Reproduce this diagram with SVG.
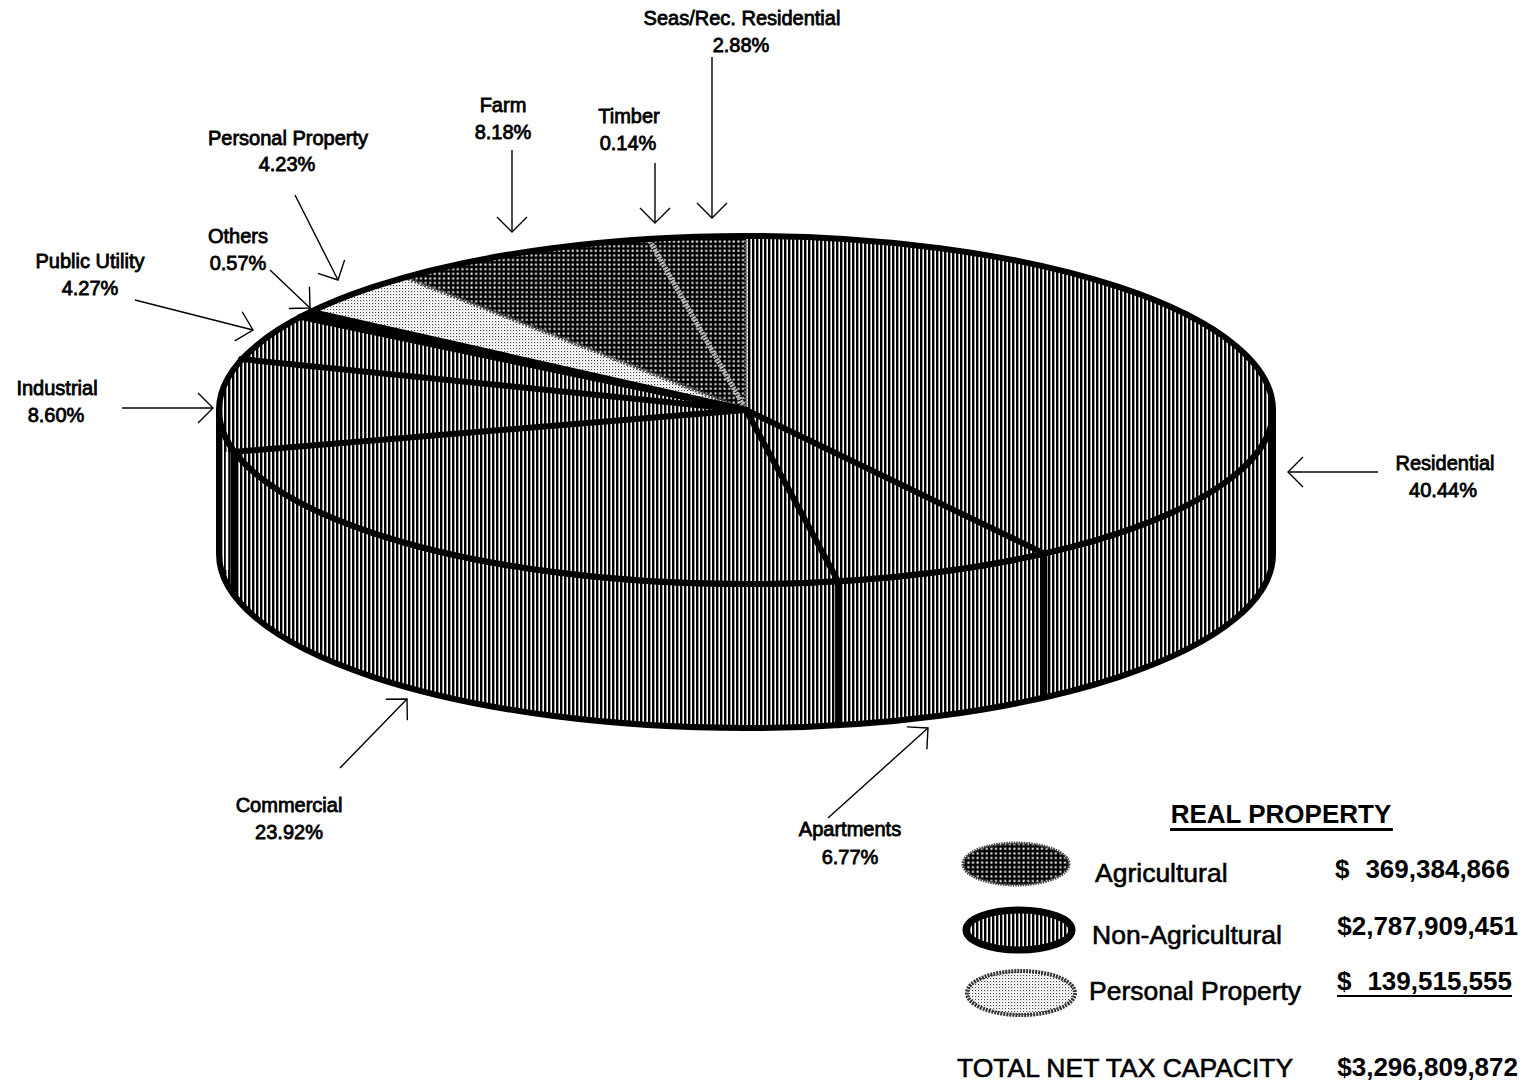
<svg xmlns="http://www.w3.org/2000/svg" width="1524" height="1083" viewBox="0 0 1524 1083">
<style>
.lbl{font-family:"Liberation Sans",Arial,sans-serif;font-size:20px;fill:#000;stroke:#000;stroke-width:0.8px;text-anchor:middle}
.leg{font-family:"Liberation Sans",Arial,sans-serif;font-size:26.5px;fill:#000;stroke:#000;stroke-width:0.6px}
.num{font-family:"Liberation Sans",Arial,sans-serif;font-size:26px;font-weight:bold;fill:#000}
.arr{fill:none;stroke:#000;stroke-width:1.4px;marker-end:url(#ah)}
.edge{fill:none;stroke:#000;stroke-width:6px;stroke-linejoin:round}
.rad{stroke:#000;stroke-width:6px;stroke-linecap:round}
</style>
<defs>
<pattern id="vl" patternUnits="userSpaceOnUse" width="4" height="4"><rect width="4" height="4" fill="#fff"/><rect width="2.4" height="4" fill="#000"/></pattern>
<pattern id="gr" patternUnits="userSpaceOnUse" width="4.6" height="4.6"><rect width="4.6" height="4.6" fill="#000"/><rect x="1.4" y="1.4" width="2" height="2" fill="#fff"/></pattern>
<pattern id="st" patternUnits="userSpaceOnUse" width="3" height="3"><rect width="3" height="3" fill="#fff"/><rect width="1.1" height="1.1" fill="#444"/><rect x="1.5" y="1.5" width="0.8" height="0.8" fill="#999"/></pattern>
<marker id="ah" markerUnits="userSpaceOnUse" markerWidth="40" markerHeight="40" viewBox="-20 -20 40 40" refX="0" refY="0" orient="auto" overflow="visible"><path d="M-15,-15 L0,0 L-15,15" fill="none" stroke="#000" stroke-width="1.4"/></marker>
</defs>
<rect width="1524" height="1083" fill="#fff"/>

<g id="pie">
  <g id="side">
    <path d="M219,410 A527,174 0 0 0 1273,410 L1273,554 A527,174 0 0 1 219,554 Z" fill="url(#vl)" stroke="#000" stroke-width="6" stroke-linejoin="round"/>
    <line class="rad" x1="1044.4" y1="553.6" x2="1044.4" y2="695"/>
    <line class="rad" x1="838.1" y1="581.3" x2="838.1" y2="725.3"/>
    <line class="rad" x1="233.5" y1="451.9" x2="233.5" y2="590"/>
    <line x1="227" y1="452" x2="227" y2="570" stroke="#fff" stroke-width="2.5"/>
  </g>
  <g id="top">
    <ellipse cx="746" cy="410" rx="527" ry="174" fill="url(#vl)"/>
    <path id="agri-wedge" d="M746,410 L404.5,277.3 A527,174 0 0 1 746,236 Z" fill="url(#gr)"/>
    <path id="personal-wedge" d="M746,410 L310.6,311.6 A527,174 0 0 1 404.5,277.3 Z" fill="url(#st)"/>
    <path id="others-wedge" d="M746,410 L300.2,316.8 A527,174 0 0 1 310.6,311.6 Z" fill="#000"/>
    <line x1="746" y1="410" x2="404.5" y2="277.3" stroke="#555" stroke-width="4" stroke-dasharray="2 1.5"/>
    <line x1="746" y1="410" x2="648.7" y2="239" stroke="#bbb" stroke-width="5" stroke-dasharray="2 1"/>
    <line x1="746" y1="410" x2="746" y2="236" stroke="#777" stroke-width="3" stroke-dasharray="2 1.5"/>
    <line class="rad" x1="746" y1="410" x2="1044.4" y2="553.6"/>
    <line class="rad" x1="746" y1="410" x2="838.1" y2="581.3"/>
    <line class="rad" x1="746" y1="410" x2="233.5" y2="451.9"/>
    <line class="rad" x1="746" y1="410" x2="241.1" y2="359.1"/>
    <line class="rad" x1="746" y1="410" x2="300.2" y2="316.8"/>
    <line class="rad" x1="746" y1="410" x2="310.6" y2="311.6"/>
    <ellipse class="edge" cx="746" cy="410" rx="527" ry="174"/>
  </g>
</g>

<g id="connectors">
  <line class="arr" x1="712" y1="57" x2="712" y2="218"/>
  <line class="arr" x1="655" y1="163" x2="655" y2="223"/>
  <line class="arr" x1="512" y1="150" x2="512" y2="232"/>
  <line class="arr" x1="295" y1="195" x2="338" y2="280"/>
  <line class="arr" x1="270" y1="270" x2="310" y2="308"/>
  <line class="arr" x1="135" y1="300" x2="253" y2="330"/>
  <line class="arr" x1="122" y1="408" x2="213" y2="408"/>
  <line class="arr" x1="1378" y1="472" x2="1288" y2="472"/>
  <line class="arr" x1="340" y1="768" x2="407" y2="699"/>
  <line class="arr" x1="828" y1="818" x2="928" y2="728"/>
</g>

<g id="label-seasrec"><text class="lbl" x="742" y="25">Seas/Rec. Residential</text><text class="lbl" x="741" y="52">2.88%</text></g>
<g id="label-timber"><text class="lbl" x="629" y="123">Timber</text><text class="lbl" x="628" y="150">0.14%</text></g>
<g id="label-farm"><text class="lbl" x="503" y="112">Farm</text><text class="lbl" x="503" y="139">8.18%</text></g>
<g id="label-personal"><text class="lbl" x="288" y="145">Personal Property</text><text class="lbl" x="287" y="171">4.23%</text></g>
<g id="label-others"><text class="lbl" x="238" y="243">Others</text><text class="lbl" x="238" y="270">0.57%</text></g>
<g id="label-public"><text class="lbl" x="90" y="268">Public Utility</text><text class="lbl" x="90" y="295">4.27%</text></g>
<g id="label-industrial"><text class="lbl" x="57" y="395">Industrial</text><text class="lbl" x="56" y="422">8.60%</text></g>
<g id="label-residential"><text class="lbl" x="1445" y="470">Residential</text><text class="lbl" x="1443" y="497">40.44%</text></g>
<g id="label-commercial"><text class="lbl" x="289" y="812">Commercial</text><text class="lbl" x="289" y="839">23.92%</text></g>
<g id="label-apartments"><text class="lbl" x="850" y="836">Apartments</text><text class="lbl" x="850" y="864">6.77%</text></g>

<g id="legend">
  <text class="num" x="1281" y="823" text-anchor="middle" font-size="26">REAL PROPERTY</text>
  <line x1="1170" y1="829.5" x2="1393" y2="829.5" stroke="#000" stroke-width="3"/>
  <g id="legend-agricultural">
    <ellipse cx="1016" cy="864" rx="53" ry="21" fill="url(#gr)" stroke="#444" stroke-width="3" stroke-dasharray="1.5 1"/>
    <text class="leg" x="1095" y="882">Agricultural</text>
    <text class="num" x="1335" y="878">$</text>
    <text class="num" x="1510" y="878" text-anchor="end">369,384,866</text>
  </g>
  <g id="legend-nonagricultural">
    <ellipse cx="1019" cy="930" rx="53" ry="20" fill="url(#vl)" stroke="#000" stroke-width="7"/>
    <text class="leg" x="1092" y="944">Non-Agricultural</text>
    <text class="num" x="1518" y="935" text-anchor="end">$2,787,909,451</text>
  </g>
  <g id="legend-personal">
    <ellipse cx="1021" cy="993" rx="54" ry="22" fill="url(#st)" stroke="#333" stroke-width="4" stroke-dasharray="2 1"/>
    <text class="leg" x="1089" y="1000">Personal Property</text>
    <text class="num" x="1337" y="990">$</text>
    <text class="num" x="1512" y="990" text-anchor="end">139,515,555</text>
    <line x1="1337" y1="996" x2="1512" y2="996" stroke="#000" stroke-width="2"/>
  </g>
  <g id="legend-total">
    <text class="leg" x="957" y="1077">TOTAL NET TAX CAPACITY</text>
    <text class="num" x="1518" y="1076" text-anchor="end">$3,296,809,872</text>
  </g>
</g>
</svg>
